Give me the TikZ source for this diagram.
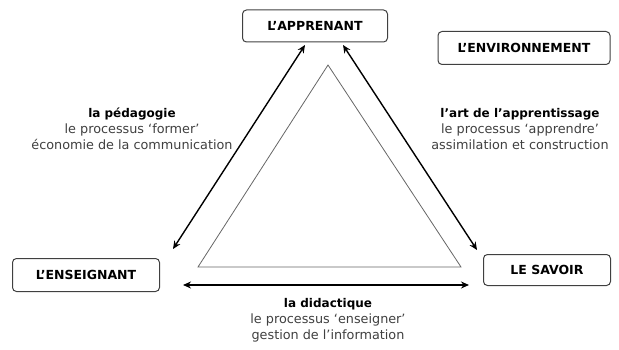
\documentclass[tikz,border=0pt]{standalone}
\usepackage{fontspec}
\setmainfont{DejaVu Sans}
\usetikzlibrary{arrows.meta}
\newcommand{\ttlfont}{\bfseries\fontsize{12}{16}\selectfont\color{black}}
\begin{document}
\begin{tikzpicture}[x=1pt,y=-1pt,
  boxlbl/.style={draw=black!75,line width=1pt,rounded corners=4pt,font=\bfseries\fontsize{12.5}{14}\selectfont,inner sep=0pt},
  arr/.style={line width=1.4pt,{Stealth[length=8pt,width=7pt]}-{Stealth[length=8pt,width=7pt]}},
  lbl/.style={align=center,font=\fontsize{12.8}{16}\selectfont,text=black!75}]
\useasboundingbox (0,0) rectangle (619,350);
\node[boxlbl,minimum width=145pt,minimum height=32pt] (app) at (315,26) {L'APPRENANT};
\node[boxlbl,minimum width=172pt,minimum height=33pt] (env) at (524,48) {L'ENVIRONNEMENT};
\node[boxlbl,minimum width=147pt,minimum height=33pt] (ens) at (86,275) {L'ENSEIGNANT};
\node[boxlbl,minimum width=127pt,minimum height=31pt] (sav) at (547,270) {LE SAVOIR};
\coordinate (ta) at (328,65);
\coordinate (tl) at (198,267);
\coordinate (tr) at (461,267);
\draw[black!60,line width=0.8pt] (ta) -- (tl) -- (tr) -- cycle;
\coordinate (l1) at (173,249);
\coordinate (l2) at (305,45);
\coordinate (r1) at (343,45);
\coordinate (r2) at (477,250);
\coordinate (b1) at (183,285);
\coordinate (b2) at (469,285);
\draw[arr] (l1) -- (l2);
\draw[arr] (r1) -- (r2);
\draw[arr] (b1) -- (b2);
\node[lbl] (ped) at (132,129) {{\ttlfont la pédagogie}\\le processus ‘former’\\économie de la communication};
\node[lbl] (art) at (520,129) {{\ttlfont l’art de l’apprentissage}\\le processus ‘apprendre’\\assimilation et construction};
\node[lbl] (did) at (328,320) {{\ttlfont la didactique}\\le processus ‘enseigner’\\gestion de l’information};
\end{tikzpicture}
\end{document}
